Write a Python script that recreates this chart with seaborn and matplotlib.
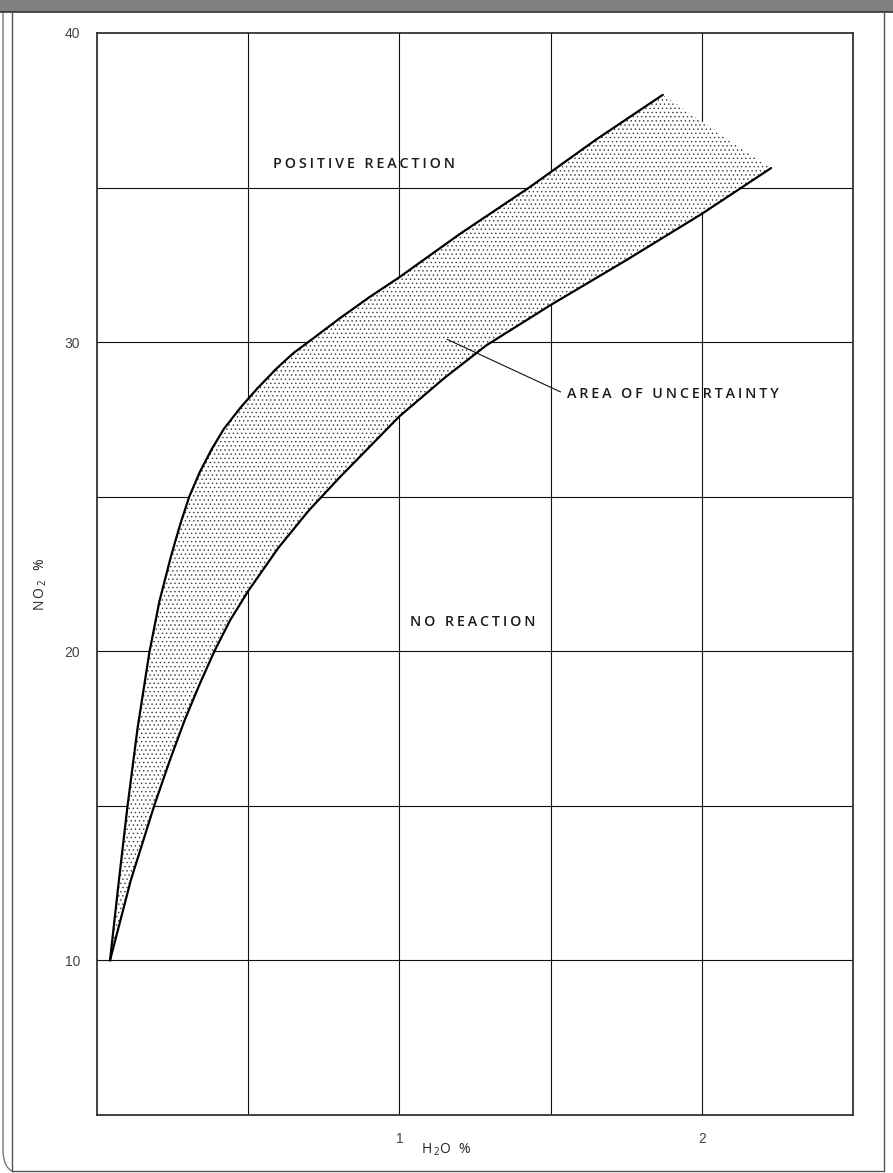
import numpy as np
import matplotlib
matplotlib.use('Agg')
import matplotlib.pyplot as plt
import seaborn as sns
from matplotlib.lines import Line2D
from matplotlib.patches import Rectangle, PathPatch
from matplotlib.path import Path

# --- data (H2O %, NO2 %) ---
upper_h2o = [0.043, 0.072, 0.101, 0.134, 0.173, 0.206, 0.244, 0.275, 0.305, 0.340,
             0.380, 0.420, 0.476, 0.530, 0.594, 0.650, 0.712, 0.800, 0.900, 1.000,
             1.200, 1.429, 1.650, 1.871]
upper_no2 = [10.0, 12.55, 15.0, 17.5, 19.95, 21.6, 23.05, 24.1, 25.0, 25.8,
             26.55, 27.2, 27.9, 28.5, 29.15, 29.65, 30.1, 30.75, 31.45, 32.1,
             33.5, 35.0, 36.55, 38.0]

lower_h2o = [0.043, 0.112, 0.189, 0.240, 0.289, 0.340, 0.388, 0.440, 0.500, 0.600,
             0.700, 0.800, 0.900, 1.000, 1.150, 1.288, 1.500, 1.750, 2.000, 2.229]
lower_no2 = [10.0, 12.6, 15.0, 16.45, 17.75, 18.95, 20.0, 21.0, 21.95, 23.35,
             24.55, 25.6, 26.6, 27.6, 28.85, 29.9, 31.2, 32.65, 34.15, 35.63]

x_ticks = [1, 2]
y_ticks = [10, 20, 30, 40]
x_grid = [0.5, 1.0, 1.5, 2.0]
y_grid = [10, 15, 20, 25, 30, 35]

sns.set_style('white')
plt.rcParams['font.family'] = ['DejaVu Sans']
plt.rcParams['hatch.linewidth'] = 0.5
plt.rcParams['mathtext.default'] = 'regular'

W, H = 893, 1173
fig = plt.figure(figsize=(W / 100, H / 100), dpi=100)
ax = fig.add_axes([97 / W, 1 - 1115 / H, (853 - 97) / W, (1115 - 33) / H])

ax.set_xlim(0, 2.5)
ax.set_ylim(5, 40)

# grid
for gx in x_grid:
    ax.axvline(gx, color='#111111', lw=0.8, zorder=1)
for gy in y_grid:
    ax.axhline(gy, color='#111111', lw=0.8, zorder=1)

# stippled band of uncertainty
poly_x = upper_h2o + lower_h2o[::-1]
poly_y = upper_no2 + lower_no2[::-1]
ax.fill(poly_x, poly_y, facecolor='white', edgecolor='#3a3a3a', hatch='....',
        linewidth=0, zorder=2)

sns.lineplot(x=upper_h2o, y=upper_no2, sort=False, estimator=None,
             color='black', lw=1.6, ax=ax, zorder=3)
sns.lineplot(x=lower_h2o, y=lower_no2, sort=False, estimator=None,
             color='black', lw=1.6, ax=ax, zorder=3)

# labels inside the chart
def spaced(s):
    return '\u2009'.join(s)

txt_kw = dict(fontsize=10.3, fontweight='semibold', color='#1a1a1a',
              family=['Open Sans', 'DejaVu Sans'], va='center', zorder=4)
ax.text(0.583, 35.75, spaced('POSITIVE REACTION'), ha='left', **txt_kw)
ax.text(1.553, 28.31, spaced('AREA OF UNCERTAINTY'), ha='left', **txt_kw)
ax.text(1.036, 20.94, spaced('NO REACTION'), ha='left', **txt_kw)
ax.plot([1.158, 1.533], [30.09, 28.39], color='#111111', lw=0.8, zorder=4)

# axes cosmetics
ax.set_xticks(x_ticks)
ax.set_yticks(y_ticks)
ax.set_xticklabels([str(t) for t in x_ticks])
ax.set_yticklabels([str(t) for t in y_ticks])
ax.tick_params(length=0, labelsize=10, labelcolor='#444444', pad=12)
for lab in ax.get_xticklabels() + ax.get_yticklabels():
    lab.set_family(['Liberation Sans Narrow', 'Liberation Sans', 'DejaVu Sans'])
for sp in ax.spines.values():
    sp.set_color('#333333')
    sp.set_linewidth(1.3)
    sp.set_visible(True)
ax.set_xlabel('')
ax.set_ylabel('')

lab_kw = dict(ha='center', va='center', fontsize=10, color='#222222',
              family=['Open Sans', 'DejaVu Sans'])
fig.text(446 / W, 1 - 1150 / H, 'H\u2009$_2$O\u2009\u2009 %', **lab_kw)
fig.text(41 / W, 1 - 584 / H, 'N\u2009O\u2009$_2$\u2009\u2009 %', rotation=90, **lab_kw)

# page frame
fig.add_artist(Rectangle((0, 1 - 12 / H), 1, 12 / H, transform=fig.transFigure,
                         facecolor='#808080', edgecolor='none'))
fig.add_artist(Line2D([0, 1], [1 - 12 / H] * 2, transform=fig.transFigure,
                      color='#333333', lw=1.2))
fig.add_artist(Line2D([12 / W] * 2, [1 - 12 / H, 1 - 1171 / H], transform=fig.transFigure,
                      color='#555555', lw=1.0))
fig.add_artist(Line2D([12 / W, 884 / W], [1 - 1171 / H] * 2, transform=fig.transFigure,
                      color='#555555', lw=1.0))
fig.add_artist(Line2D([884 / W] * 2, [1 - 12 / H, 1 - 1171 / H], transform=fig.transFigure,
                      color='#555555', lw=1.0))
outer = Path([(3 / W, 1 - 12 / H), (3 / W, 1 - 1150 / H), (3 / W, 1 - 1168 / H),
              (14 / W, 1 - 1172 / H)],
             [Path.MOVETO, Path.LINETO, Path.CURVE3, Path.CURVE3])
fig.add_artist(PathPatch(outer, transform=fig.transFigure, facecolor='none',
                         edgecolor='#777777', lw=1.0))

fig.savefig('out.png', dpi=100)
